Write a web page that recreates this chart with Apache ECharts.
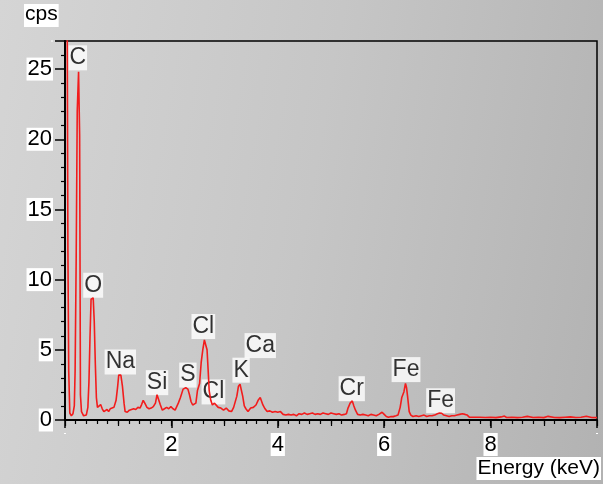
<!DOCTYPE html>
<html>
<head>
<meta charset="utf-8">
<script src="https://cdn.jsdelivr.net/npm/echarts@6/dist/echarts.min.js"></script>
<style>
html,body{margin:0;padding:0;}
body{width:603px;height:484px;background:linear-gradient(100deg,#d5d5d5 0%,#c6c6c6 50%,#b2b2b2 100%);}
#chart{width:603px;height:484px;}
</style>
</head>
<body>
<div id="chart"></div>
<script>
// Spectrum: energy (keV) and counts per second
const energy = [0.04,0.055,0.07,0.09,0.12,0.15,0.175,0.19,0.21,0.23,0.255,0.275,0.29,0.31,0.35,0.40,0.43,0.45,0.47,0.49,0.53,0.55,0.57,0.59,0.61,0.64,0.67,0.70,0.73,0.76,0.79,0.82,0.85,0.88,0.92,0.96,0.99,1.01,1.05,1.08,1.11,1.13,1.17,1.21,1.25,1.29,1.33,1.37,1.41,1.44,1.47,1.50,1.54,1.58,1.62,1.66,1.70,1.73,1.76,1.79,1.83,1.87,1.91,1.95,1.99,2.03,2.07,2.10,2.13,2.17,2.22,2.27,2.31,2.34,2.37,2.40,2.43,2.46,2.49,2.53,2.56,2.59,2.62,2.65,2.67,2.69,2.71,2.74,2.77,2.81,2.84,2.88,2.93,2.98,3.03,3.08,3.13,3.17,3.20,3.23,3.26,3.29,3.31,3.34,3.37,3.40,3.44,3.49,3.54,3.59,3.63,3.67,3.69,3.72,3.76,3.80,3.85,3.90,3.95,4.00,4.05,4.10,4.15,4.20,4.25,4.30,4.35,4.40,4.45,4.50,4.55,4.60,4.65,4.70,4.75,4.80,4.85,4.90,4.95,5.00,5.05,5.10,5.15,5.20,5.25,5.29,5.32,5.36,5.40,5.43,5.46,5.50,5.55,5.60,5.65,5.70,5.75,5.80,5.85,5.90,5.96,6.00,6.04,6.08,6.13,6.17,6.22,6.26,6.30,6.33,6.37,6.40,6.42,6.44,6.47,6.50,6.54,6.60,6.65,6.70,6.75,6.80,6.85,6.90,6.95,7.00,7.04,7.08,7.12,7.17,7.22,7.27,7.32,7.37,7.42,7.47,7.52,7.56,7.60,7.65,7.70,7.75,7.80,7.90,8.00,8.10,8.20,8.26,8.30,8.40,8.50,8.60,8.69,8.80,8.90,9.00,9.08,9.20,9.30,9.40,9.50,9.60,9.70,9.80,9.90,10.0];
const cps = [30,11.9,3.5,0.5,0.3,0.45,1.0,3.5,11.4,22.0,24.8,20.3,1.8,0.6,0.3,0.35,0.9,2.7,5.9,8.6,8.7,7.0,4.0,1.6,0.9,1.0,1.1,0.8,0.6,0.55,0.75,0.6,0.8,0.75,0.9,1.4,2.4,3.2,3.2,2.4,1.2,0.6,0.55,0.7,0.75,0.8,0.75,0.9,0.85,1.1,1.4,1.2,0.9,0.8,0.85,0.95,1.2,1.8,1.7,1.1,0.7,0.8,0.9,0.8,0.95,0.8,0.7,0.75,1.2,1.6,2.2,2.3,2.2,1.8,1.3,1.07,1.0,1.2,2.1,2.6,4.1,5.0,5.7,5.6,5.0,3.6,2.1,1.4,1.07,1.2,1.2,0.9,0.85,0.7,0.85,0.65,0.6,0.9,1.0,1.7,2.4,2.55,2.5,1.7,1.0,0.8,0.6,0.85,0.9,1.07,1.4,1.6,1.5,1.07,0.8,0.6,0.65,0.55,0.6,0.55,0.6,0.4,0.35,0.4,0.35,0.4,0.3,0.45,0.4,0.5,0.4,0.45,0.5,0.4,0.45,0.4,0.5,0.45,0.4,0.5,0.45,0.4,0.45,0.35,0.4,0.45,0.85,1.2,1.36,1.0,0.7,0.4,0.35,0.4,0.35,0.3,0.4,0.35,0.3,0.4,0.55,0.4,0.25,0.2,0.25,0.24,0.3,0.35,0.9,1.6,2.0,2.6,2.3,1.67,0.6,0.35,0.25,0.3,0.25,0.3,0.35,0.25,0.3,0.3,0.35,0.45,0.5,0.48,0.35,0.3,0.25,0.3,0.3,0.35,0.4,0.45,0.4,0.35,0.2,0.2,0.2,0.2,0.2,0.18,0.2,0.17,0.22,0.28,0.18,0.2,0.17,0.2,0.26,0.18,0.2,0.17,0.26,0.18,0.17,0.2,0.22,0.18,0.2,0.27,0.18,0.17];

// Peak annotations
const peakNames = ['C','O','Na','Si','S','Cl','Cl','K','Ca','Cr','Fe','Fe'];
const peakE =     [0.24,0.53,1.04,1.73,2.31,2.60,2.79,3.31,3.67,5.39,6.41,7.06];
const peakY =     [25.8,9.6,4.14,2.66,3.2,6.66,2.0,3.55,5.3,2.23,3.59,1.37];

const xTicks = [2,4,6,8];
const yTicks = [0,5,10,15,20,25];

const FONT = "'Liberation Sans Narrow','Liberation Sans',Arial,sans-serif";

const chart = echarts.init(document.getElementById('chart'), null, {renderer:'canvas'});
const option = {
  backgroundColor: 'transparent',
  animation: false,
  grid: {left:65, right:6, top:41, bottom:64, show:true, borderColor:'#000', borderWidth:1.5, backgroundColor:'transparent'},
  xAxis: [{
    type:'value', min:0, max:10, interval:2,
    axisLine:{show:true, lineStyle:{color:'#000', width:2}},
    axisTick:{show:true, inside:false, length:8, lineStyle:{color:'#000', width:1.5}},
    minorTick:{show:true, splitNumber:10, length:4, lineStyle:{color:'#000', width:1.2}},
    splitLine:{show:false},
    axisLabel:{
      margin:13, color:'#000', fontSize:22, fontFamily:FONT,
      backgroundColor:'#fff', padding:[1,1,0,1],
      formatter: v => xTicks.indexOf(v) >= 0 ? String(v) : ''
    }
  },{
    type:'value', min:0, max:10, interval:1, position:'bottom',
    axisLine:{show:false},
    axisTick:{show:true, inside:false, length:6, lineStyle:{color:'#000', width:1.2}},
    axisLabel:{show:false}, splitLine:{show:false}
  }],
  yAxis: {
    type:'value', min:0, max:27, interval:5,
    axisLine:{show:true, lineStyle:{color:'#000', width:2}},
    axisTick:{show:true, inside:false, length:10, lineStyle:{color:'#000', width:1.5}},
    minorTick:{show:true, splitNumber:5, length:4, lineStyle:{color:'#000', width:1.2}},
    splitLine:{show:false},
    axisLabel:{
      margin:12, color:'#000', fontSize:22, fontFamily:FONT,
      backgroundColor:'#fff', padding:[1,1,0,1],
      formatter: v => yTicks.indexOf(v) >= 0 ? String(v) : ''
    }
  },
  graphic: [
    {type:'text', left:24, top:4, style:{text:'cps', font:"21px "+FONT, fill:'#000', backgroundColor:'#fff', padding:[0,1,2,1]}},
    {type:'text', right:2, top:457, style:{text:'Energy (keV)', font:"21px "+FONT, fill:'#000', backgroundColor:'#fff', padding:[1,1,1,1]}}
  ],
  series: [
    {
      type:'line', xAxisIndex:0, clip:true, symbol:'none',
      data: energy.map((e,i)=>[e,cps[i]]),
      lineStyle:{color:'#f21c1c', width:1.6}
    },
    {
      type:'scatter', xAxisIndex:0, symbolSize:1, silent:true,
      itemStyle:{color:'rgba(0,0,0,0)'},
      data: peakE.map((e,i)=>[e,peakY[i],peakNames[i]]),
      label:{
        show:true, position:'inside', formatter:p=>p.data[2],
        color:'#000', fontSize:23, fontFamily:FONT,
        backgroundColor:'#fff', padding:[2,1,0,1]
      }
    }
  ]
};
chart.setOption(option);
</script>
</body>
</html>
